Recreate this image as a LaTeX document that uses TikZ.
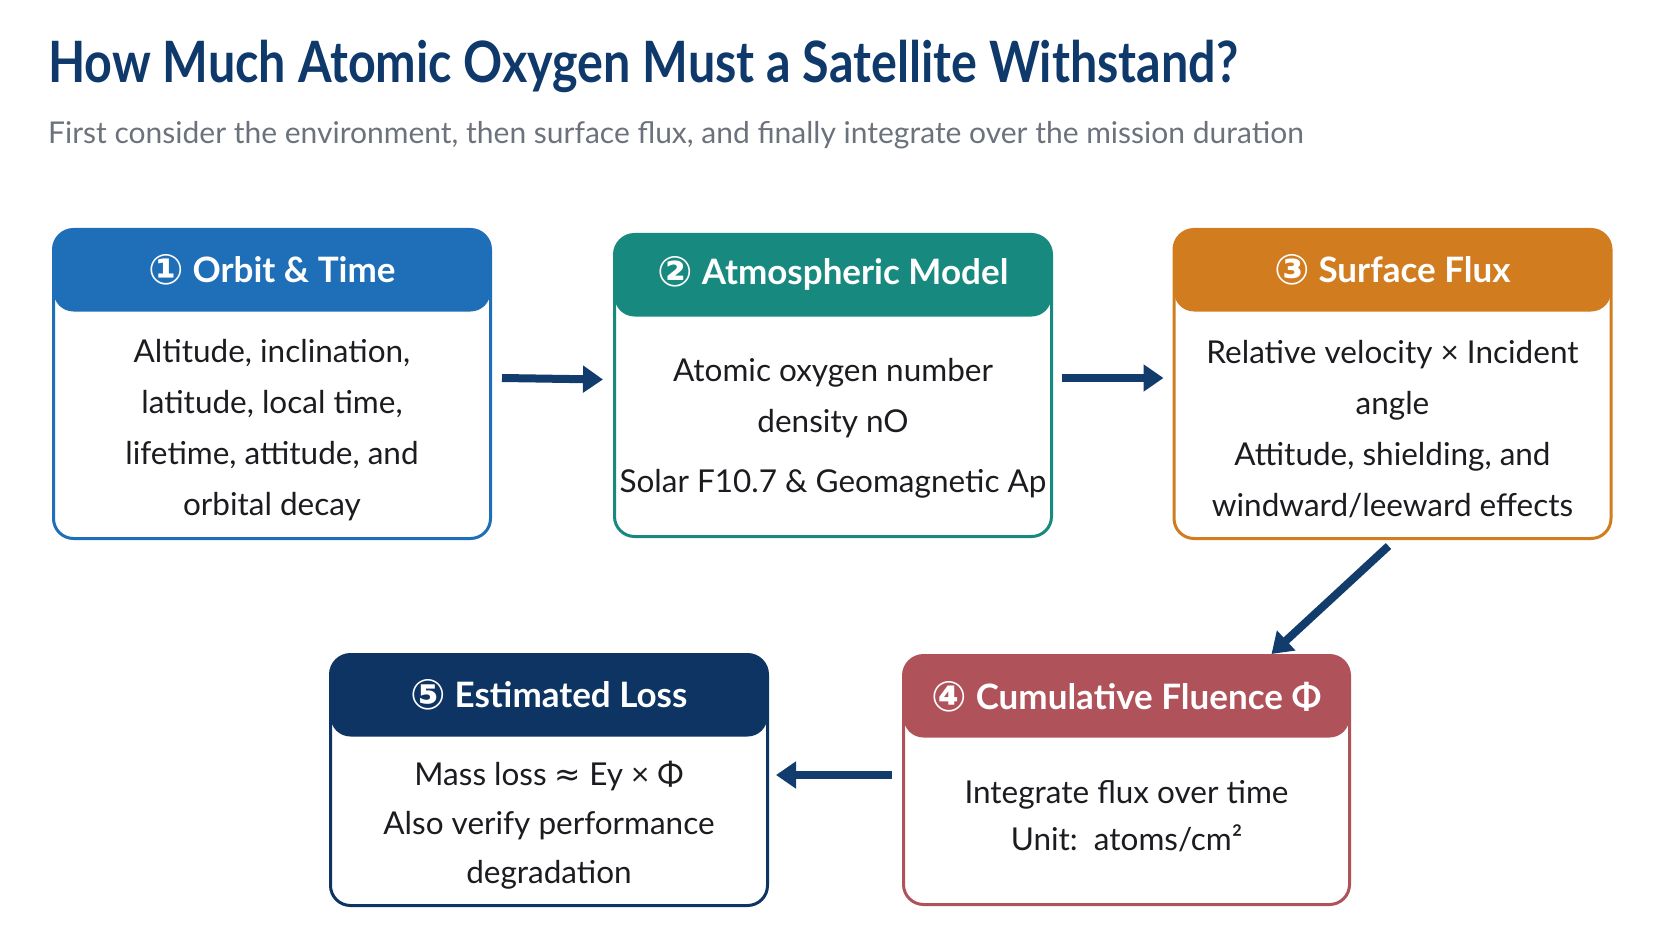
\documentclass[tikz,border=0pt]{standalone}
\usepackage{fontspec}
\setmainfont{Lato}
\newfontfamily\titlefont[FakeStretch=0.85]{Lato}
\newfontfamily\symfont{DejaVu Sans}
\usetikzlibrary{arrows.meta}

\definecolor{orbitblue}{RGB}{31,110,184}
\definecolor{atmosteal}{RGB}{24,137,126}
\definecolor{fluxorange}{RGB}{210,124,32}
\definecolor{fluencerose}{RGB}{176,82,90}
\definecolor{lossnavy}{RGB}{13,52,99}
\definecolor{arrownavy}{RGB}{18,60,108}
\definecolor{titleblue}{RGB}{14,57,106}
\definecolor{subgray}{RGB}{108,114,124}
\definecolor{bodyink}{RGB}{28,28,32}

\newcommand{\stepno}[1]{{\symfont\fontsize{42}{40}\selectfont\raisebox{-2pt}{#1}}}

\begin{document}
\begin{tikzpicture}[x=1pt,y=-1pt,
  card/.style={draw=#1,line width=3pt,rounded corners=20pt,fill=white,inner sep=0pt,
    minimum width=437pt,
    path picture={\fill[#1] (path picture bounding box.north west) rectangle ([yshift=-82pt]path picture bounding box.north east);}},
  head/.style={text=white,font=\bfseries\fontsize{35}{40}\selectfont,inner sep=0pt},
  body/.style={text=bodyink,font=\fontsize{31.5}{51}\selectfont,align=center,inner sep=0pt},
  flow/.style={draw=arrownavy,line width=8pt,-{Triangle[length=20pt,width=26pt]}}]
  \useasboundingbox (0,0) rectangle (1672,941);
  \node[anchor=base west,text=titleblue,font=\titlefont\bfseries\fontsize{57}{60}\selectfont,inner sep=0pt] (title) at (48,83) {How Much Atomic Oxygen Must a Satellite Withstand?};
  \node[anchor=base west,text=subgray,font=\fontsize{30}{36}\selectfont,inner sep=0pt] (subtitle) at (48,144) {First consider the environment, then surface flux, and finally integrate over the mission duration};

  % top row
  \node[card=orbitblue,minimum height=309pt] (orbit) at (272,384) {};
  \node[card=atmosteal,minimum height=302pt] (atmos) at (833,385.5) {};
  \node[card=fluxorange,minimum height=309pt] (flux) at (1392.5,384) {};
  % bottom row
  \node[card=fluencerose,minimum height=249pt,minimum width=446pt] (fluence) at (1126.5,780) {};
  \node[card=lossnavy,minimum height=251pt] (loss) at (549,780) {};

  \node[head] (orbithead) at ([yshift=-42pt]orbit.north) {\stepno{①} Orbit \& Time};
  \node[head] (atmoshead) at ([yshift=-40pt]atmos.north) {\stepno{②} Atmospheric Model};
  \node[head] (fluxhead) at ([yshift=-42pt]flux.north) {\stepno{③} Surface Flux};
  \node[head] (fluencehead) at ([yshift=-43pt]fluence.north) {\stepno{④} Cumulative Fluence Φ};
  \node[head] (losshead) at ([yshift=-42pt]loss.north) {\stepno{⑤} Estimated Loss};

  \node[body] (orbittext) at (272,430) {Altitude, inclination,\\ latitude, local time,\\ lifetime, attitude, and\\ orbital decay};
  \node[body] (atmostext) at (833,428) {Atomic oxygen number\\ density nO\\[9pt] Solar F10.7 \& Geomagnetic Ap};
  \node[body] (fluxtext) at (1392.5,429) {Relative velocity × Incident\\ angle\\ Attitude, shielding, and\\ windward/leeward effects};
  \node[body,font=\fontsize{31.5}{47}\selectfont] (fluencetext) at (1126.5,816) {Integrate flux over time\\ Unit:\ \ atoms/cm²};
  \node[body,font=\fontsize{31.5}{49}\selectfont] (losstext) at (549,825) {Mass loss {\symfont ≈} Ey × Φ\\ Also verify performance\\ degradation};

  \draw[flow] ([xshift=10pt,yshift=6pt]orbit.east) -- ([xshift=-10pt,yshift=6pt]atmos.west);
  \draw[flow] ([xshift=9pt,yshift=7.5pt]atmos.east) -- ([xshift=-9pt,yshift=6pt]flux.west);
  \draw[flow] ([xshift=-4pt,yshift=-6pt]flux.south) -- ([xshift=145pt]fluence.north);
  \draw[flow] ([xshift=-10pt,yshift=5pt]fluence.west) -- ([xshift=7pt,yshift=5pt]loss.east);
\end{tikzpicture}
\end{document}
